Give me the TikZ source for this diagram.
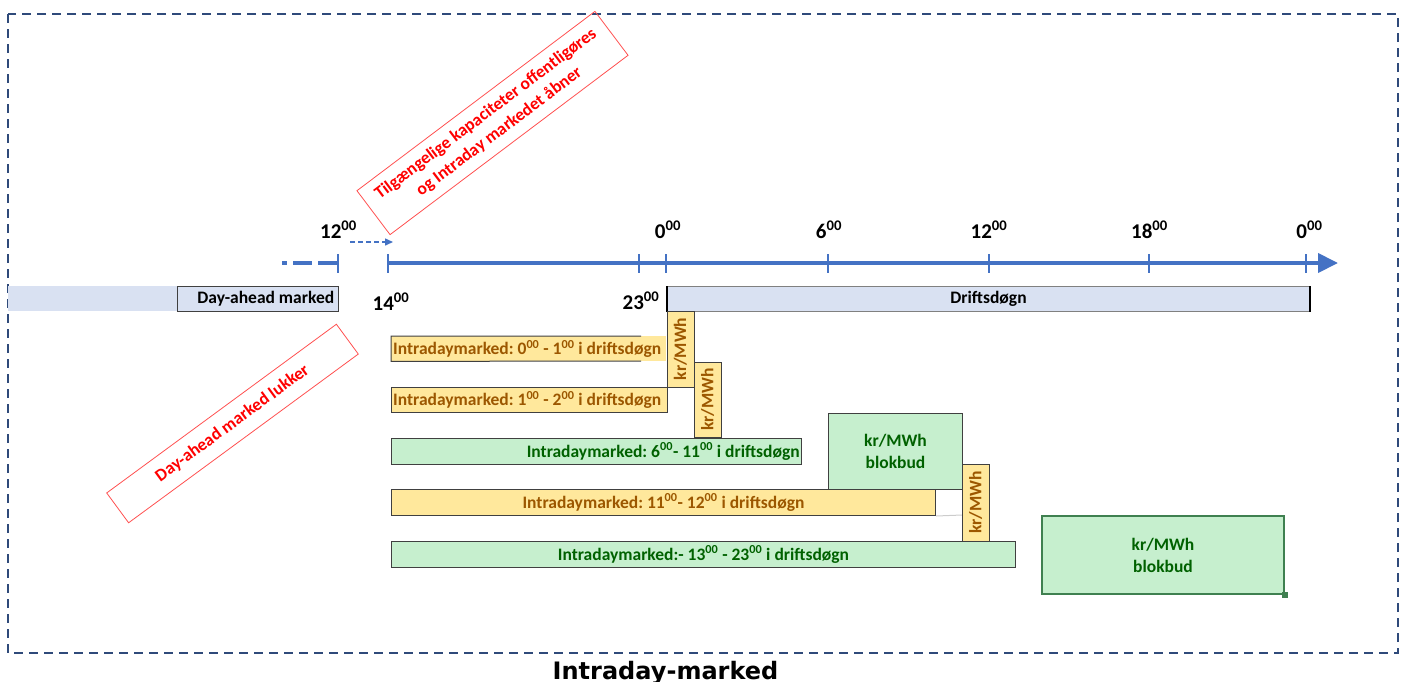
\documentclass[tikz,border=0pt]{standalone}
\usepackage{fontspec}
\setmainfont{Carlito}
\newfontfamily\titlefont{DejaVu Sans}
\usetikzlibrary{arrows.meta}
\frenchspacing
\definecolor{axisblue}{HTML}{4472C4}
\definecolor{frameblue}{HTML}{2F4A7A}
\definecolor{dayblue}{HTML}{D9E1F2}
\definecolor{neutfill}{HTML}{FFE89C}
\definecolor{neuttext}{HTML}{9C5700}
\definecolor{goodfill}{HTML}{C6EFCE}
\definecolor{goodtext}{HTML}{006100}
\definecolor{edgegray}{HTML}{404040}
\definecolor{noteRed}{HTML}{FF0000}
\definecolor{noteEdge}{HTML}{FF5050}
\definecolor{blockedge}{HTML}{3F8050}
\newcommand\hr[1]{#1\textsuperscript{00}}
\newcommand\lblfont{\fontsize{17.5}{22}\selectfont\bfseries\frenchspacing}
\newcommand\axfont{\fontsize{21}{25}\selectfont\bfseries}
\begin{document}
\begin{tikzpicture}[x=1pt,y=-1pt,
  box/.style={inner sep=0pt, anchor=north west, font=\lblfont},
  neut/.style={box, draw=edgegray, line width=1pt, fill=neutfill, text=neuttext},
  good/.style={box, draw=edgegray, line width=1pt, fill=goodfill, text=goodtext},
  lefttext/.style={anchor=west, inner sep=0pt, font=\lblfont},
  righttext/.style={anchor=east, inner sep=0pt, font=\lblfont},
  note/.style={draw=noteEdge, line width=0.8pt, text=noteRed, font=\lblfont, align=center, inner sep=0pt},
  tick/.style={axisblue, line width=2.5pt},
  axlbl/.style={anchor=base, font=\axfont, inner sep=0pt},
  krbox/.style={neut, anchor=center, rotate=90, minimum height=27pt},
]
\useasboundingbox (0,0) rectangle (1406,681);

% outer dashed frame
\draw[frameblue, line width=1.6pt, dash pattern=on 9pt off 6pt] (8,14) rectangle (1398,653);

% time axis
\coordinate (a14) at (388,263);
\coordinate (aend) at (1338,263);
\draw[axisblue, line width=4pt, -{Triangle[length=20pt,width=19pt]}] (a14) -- (aend);
\foreach \x in {388,639,666,828,989,1149,1306}
  \draw[tick] (\x,254) -- (\x,273);
% dashed lead-in before noon
\draw[axisblue, line width=4pt] (282,263) -- (287,263) (293,263) -- (312,263) (318,263) -- (338,263);
\draw[tick] (338,254) -- (338,273);
\coordinate (ds) at (350,242);
\coordinate (de) at (393,242);
\draw[axisblue, line width=1.5pt, dash pattern=on 5pt off 3pt, -{Triangle[length=8pt,width=7pt]}] (ds) -- (de);

% axis labels
\node[axlbl] (t12a) at (338.5,238) {\hr{12}};
\node[axlbl] (t14) at (391,310) {\hr{14}};
\node[axlbl] (t23) at (641,309) {\hr{23}};
\node[axlbl] (t0a) at (668,238) {\hr{0}};
\node[axlbl] (t6) at (829,238) {\hr{6}};
\node[axlbl] (t12b) at (989,238) {\hr{12}};
\node[axlbl] (t18) at (1149.5,238) {\hr{18}};
\node[axlbl] (t0b) at (1309.5,238) {\hr{0}};

% day-ahead and operating day bars
\node[box, fill=dayblue, minimum width=330pt, minimum height=25pt] (dayfill) at (8,286) {};
\node[box, draw=edgegray, fill=dayblue, minimum width=161pt, minimum height=25pt] (day) at (177,286) {};
\node[righttext] (dayt) at ([xshift=-4pt]day.east) {Day-ahead marked};
\node[box, draw=gray, line width=1pt, fill=dayblue, minimum width=642pt, minimum height=25pt] (drift) at (667,286) {Driftsdøgn};
\draw[line width=2.5pt] (drift.north west) -- (drift.south west);
\draw[line width=2.5pt] (drift.north east) -- (drift.south east);

% intraday products
\node[box, fill=neutfill, minimum width=275pt, minimum height=25pt] (ib1) at (391,336) {};
\draw[edgegray, line width=1pt] (641,336) -- (ib1.north west) -- (ib1.south west) -- (641,361);
\node[lefttext, text=neuttext] (ib1t) at ([xshift=2pt]ib1.west) {Intradaymarked: \hr0 - \hr1 i driftsdøgn};
\node[krbox, minimum width=76pt] (kr1) at (680.5,349) {kr/MWh};

\node[neut, minimum width=276pt, minimum height=25pt] (ib2) at (391,387) {};
\node[lefttext, text=neuttext] (ib2t) at ([xshift=2pt]ib2.west) {Intradaymarked: \hr1 - \hr2 i driftsdøgn};
\node[krbox, minimum width=75pt] (kr2) at (707.5,399.5) {kr/MWh};

\node[good, minimum width=410pt, minimum height=26pt] (ib3) at (391,438) {};
\node[righttext, text=goodtext] (ib3t) at ([xshift=-2pt]ib3.east) {Intradaymarked: \hr6- \hr{11} i driftsdøgn};
\node[good, minimum width=134pt, minimum height=76pt, align=center] (blk1) at (828,413) {kr/MWh\\blokbud};

\node[neut, minimum width=544pt, minimum height=26pt] (ib4) at (391,489) {Intradaymarked: \hr{11}- \hr{12} i driftsdøgn};
\draw[gray!40, line width=1pt] (ib4.south east) -- (962,515);
\node[krbox, minimum width=77pt] (kr3) at (975.5,502.5) {kr/MWh};

\node[good, minimum width=624pt, minimum height=26pt] (ib5) at (391,541) {Intradaymarked:- \hr{13} - \hr{23} i driftsdøgn};
\node[good, draw=blockedge, line width=2pt, minimum width=242pt, minimum height=78pt, align=center] (blk2) at (1041,515) {kr/MWh\\blokbud};
\fill[blockedge] ([shift={(-3pt,-3pt)}]blk2.south east) rectangle ([shift={(3pt,3pt)}]blk2.south east);

% event notes
\node[note, rotate=37, minimum width=298pt, minimum height=55pt] (open) at (492.5,123) {Tilgængelige kapaciteter offentligøres\\og Intraday markedet åbner};
\node[note, rotate=36.3, minimum width=285pt, minimum height=37pt] (close) at (232.5,423.5) {Day-ahead marked lukker};

% caption
\node[anchor=base, inner sep=0pt, font=\titlefont\bfseries\fontsize{24}{28}\selectfont] (title) at (665.5,679) {Intraday-marked};
\end{tikzpicture}
\end{document}
